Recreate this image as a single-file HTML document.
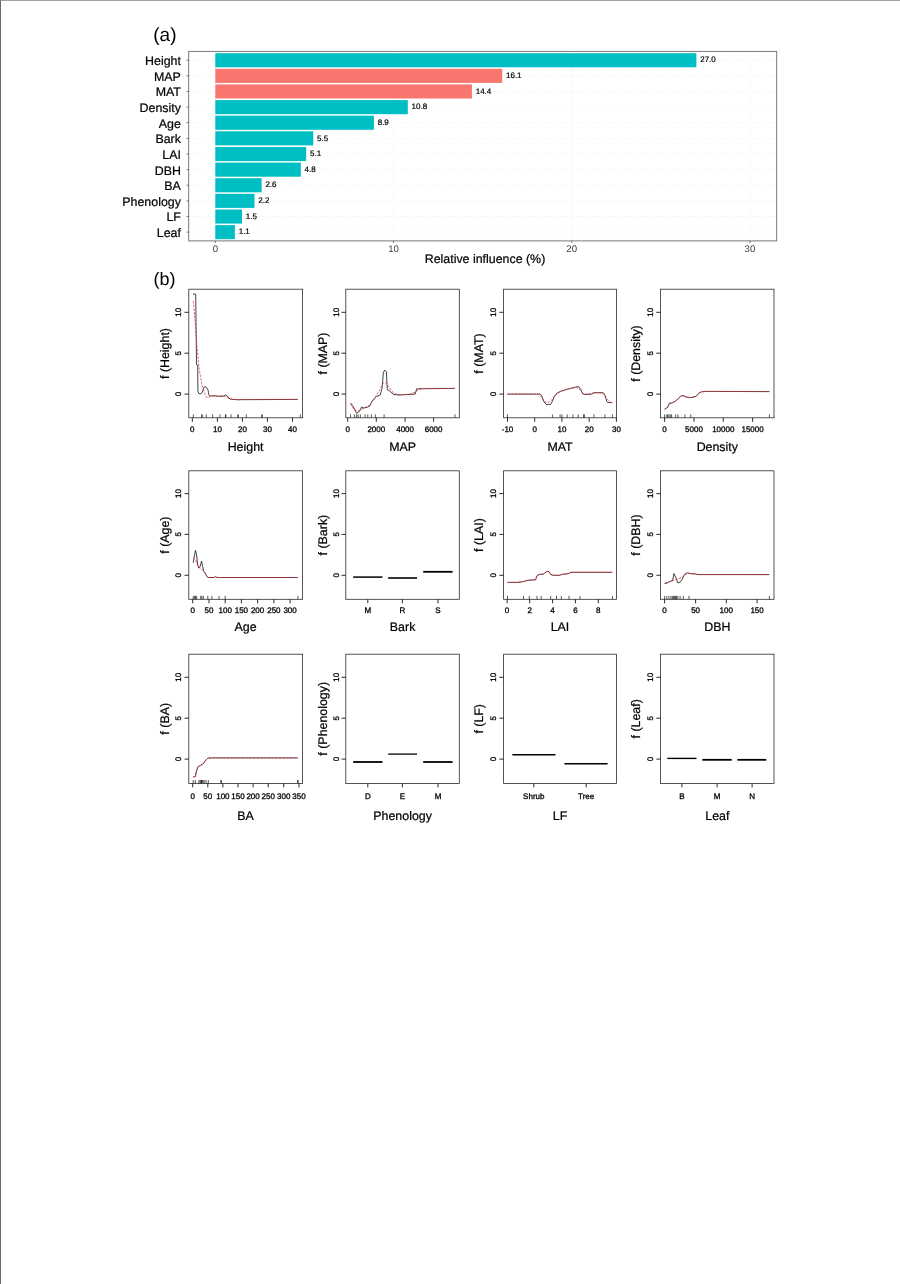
<!DOCTYPE html>
<html lang="en">
<head>
<meta charset="utf-8">
<title>Relative influence and partial dependence</title>
<style>
html,body{margin:0;padding:0;background:#fff;}
body{width:900px;height:1284px;overflow:hidden;position:relative;}
#frame{position:absolute;left:0;top:0;width:899px;height:1283px;border-left:1px solid #6a6a6a;border-top:1px solid #a0a0a0;}
svg{position:absolute;left:0;top:0;display:block;will-change:transform;}
svg text{font-family:"Liberation Sans",sans-serif;fill:#000;text-rendering:geometricPrecision;}
.lab{font-size:12.4px;stroke:#000;stroke-width:0.22px;}
.val{font-size:8px;stroke:#000;stroke-width:0.2px;}
.xt{font-size:9.6px;fill:#3a3a3a;}
.tk{font-size:8px;stroke:#000;stroke-width:0.3px;}
.big{font-size:18px;}
</style>
</head>
<body>
<div id="frame"></div>
<svg width="900" height="1284" viewBox="0 0 900 1284">

<text class="big" x="153.3" y="40.5" style="font-size:19px">(a)</text>
<g id="barchart">
<g stroke="#ececec" stroke-width="0.6" stroke-dasharray="1.6 1.6" fill="none">
<line x1="188.7" y1="60.2" x2="776.7" y2="60.2"/>
<line x1="188.7" y1="75.8" x2="776.7" y2="75.8"/>
<line x1="188.7" y1="91.5" x2="776.7" y2="91.5"/>
<line x1="188.7" y1="107.1" x2="776.7" y2="107.1"/>
<line x1="188.7" y1="122.7" x2="776.7" y2="122.7"/>
<line x1="188.7" y1="138.4" x2="776.7" y2="138.4"/>
<line x1="188.7" y1="154" x2="776.7" y2="154"/>
<line x1="188.7" y1="169.6" x2="776.7" y2="169.6"/>
<line x1="188.7" y1="185.2" x2="776.7" y2="185.2"/>
<line x1="188.7" y1="200.9" x2="776.7" y2="200.9"/>
<line x1="188.7" y1="216.5" x2="776.7" y2="216.5"/>
<line x1="188.7" y1="232.1" x2="776.7" y2="232.1"/>
<line x1="215.3" y1="51.4" x2="215.3" y2="240.9"/>
<line x1="393.5" y1="51.4" x2="393.5" y2="240.9"/>
<line x1="571.7" y1="51.4" x2="571.7" y2="240.9"/>
<line x1="749.9" y1="51.4" x2="749.9" y2="240.9"/>
</g>
<rect x="215.3" y="53.2" width="481.1" height="14.1" fill="#00BFC4"/>
<text class="val" x="700.2" y="62.3">27.0</text>
<text class="lab" text-anchor="end" x="180.9" y="65.1">Height</text>
<line x1="186.7" y1="60.2" x2="188.7" y2="60.2" stroke="#333" stroke-width="0.7"/>
<rect x="215.3" y="68.8" width="286.9" height="14.1" fill="#F8766D"/>
<text class="val" x="506" y="77.9">16.1</text>
<text class="lab" text-anchor="end" x="180.9" y="80.7">MAP</text>
<line x1="186.7" y1="75.8" x2="188.7" y2="75.8" stroke="#333" stroke-width="0.7"/>
<rect x="215.3" y="84.4" width="256.6" height="14.1" fill="#F8766D"/>
<text class="val" x="475.7" y="93.6">14.4</text>
<text class="lab" text-anchor="end" x="180.9" y="96.4">MAT</text>
<line x1="186.7" y1="91.5" x2="188.7" y2="91.5" stroke="#333" stroke-width="0.7"/>
<rect x="215.3" y="100.1" width="192.5" height="14.1" fill="#00BFC4"/>
<text class="val" x="411.6" y="109.2">10.8</text>
<text class="lab" text-anchor="end" x="180.9" y="112">Density</text>
<line x1="186.7" y1="107.1" x2="188.7" y2="107.1" stroke="#333" stroke-width="0.7"/>
<rect x="215.3" y="115.7" width="158.6" height="14.1" fill="#00BFC4"/>
<text class="val" x="377.7" y="124.8">8.9</text>
<text class="lab" text-anchor="end" x="180.9" y="127.6">Age</text>
<line x1="186.7" y1="122.7" x2="188.7" y2="122.7" stroke="#333" stroke-width="0.7"/>
<rect x="215.3" y="131.3" width="98" height="14.1" fill="#00BFC4"/>
<text class="val" x="317.1" y="140.5">5.5</text>
<text class="lab" text-anchor="end" x="180.9" y="143.3">Bark</text>
<line x1="186.7" y1="138.4" x2="188.7" y2="138.4" stroke="#333" stroke-width="0.7"/>
<rect x="215.3" y="147" width="90.9" height="14.1" fill="#00BFC4"/>
<text class="val" x="310" y="156.1">5.1</text>
<text class="lab" text-anchor="end" x="180.9" y="158.9">LAI</text>
<line x1="186.7" y1="154" x2="188.7" y2="154" stroke="#333" stroke-width="0.7"/>
<rect x="215.3" y="162.6" width="85.5" height="14.1" fill="#00BFC4"/>
<text class="val" x="304.6" y="171.7">4.8</text>
<text class="lab" text-anchor="end" x="180.9" y="174.5">DBH</text>
<line x1="186.7" y1="169.6" x2="188.7" y2="169.6" stroke="#333" stroke-width="0.7"/>
<rect x="215.3" y="178.2" width="46.3" height="14.1" fill="#00BFC4"/>
<text class="val" x="265.4" y="187.3">2.6</text>
<text class="lab" text-anchor="end" x="180.9" y="190.1">BA</text>
<line x1="186.7" y1="185.2" x2="188.7" y2="185.2" stroke="#333" stroke-width="0.7"/>
<rect x="215.3" y="193.8" width="39.2" height="14.1" fill="#00BFC4"/>
<text class="val" x="258.3" y="203">2.2</text>
<text class="lab" text-anchor="end" x="180.9" y="205.8">Phenology</text>
<line x1="186.7" y1="200.9" x2="188.7" y2="200.9" stroke="#333" stroke-width="0.7"/>
<rect x="215.3" y="209.5" width="26.7" height="14.1" fill="#00BFC4"/>
<text class="val" x="245.8" y="218.6">1.5</text>
<text class="lab" text-anchor="end" x="180.9" y="221.4">LF</text>
<line x1="186.7" y1="216.5" x2="188.7" y2="216.5" stroke="#333" stroke-width="0.7"/>
<rect x="215.3" y="225.1" width="19.6" height="14.1" fill="#00BFC4"/>
<text class="val" x="238.7" y="234.2">1.1</text>
<text class="lab" text-anchor="end" x="180.9" y="237">Leaf</text>
<line x1="186.7" y1="232.1" x2="188.7" y2="232.1" stroke="#333" stroke-width="0.7"/>
<line x1="215.3" y1="240.9" x2="215.3" y2="242.9" stroke="#333" stroke-width="0.7"/>
<text class="xt" text-anchor="middle" x="215.3" y="252.2">0</text>
<line x1="393.5" y1="240.9" x2="393.5" y2="242.9" stroke="#333" stroke-width="0.7"/>
<text class="xt" text-anchor="middle" x="393.5" y="252.2">10</text>
<line x1="571.7" y1="240.9" x2="571.7" y2="242.9" stroke="#333" stroke-width="0.7"/>
<text class="xt" text-anchor="middle" x="571.7" y="252.2">20</text>
<line x1="749.9" y1="240.9" x2="749.9" y2="242.9" stroke="#333" stroke-width="0.7"/>
<text class="xt" text-anchor="middle" x="749.9" y="252.2">30</text>
<rect x="188.7" y="51.4" width="588" height="189.5" fill="none" stroke="#6b6b6b" stroke-width="0.9"/>
<text class="lab" text-anchor="middle" x="485" y="262.5">Relative influence (%)</text>
</g>
<text class="big" x="153.5" y="284.5" style="font-size:18px">(b)</text>
<g id="pd-Height">
<polyline points="193,294.1 195.7,294.1 195.9,311.7 196.5,364.7 197.7,365.4 197.9,391 198.9,393.5 200.2,393.8 201.7,393.3 202.7,391 203.7,387.9 204.7,386.6 205.9,386.9 207.1,388.2 208.1,390.3 208.7,394.3 209.7,396.2 213,395.7 218.3,396.3 223.7,396.1 224.7,395.1 225.9,394.9 227.1,395.9 229,398.3 231.7,399.3 238.3,399.7 297.7,399.4" fill="none" stroke="#151515" stroke-width="0.8" stroke-linejoin="round"/>
<polyline points="193.3,301 194.3,311.7 195.7,329 197,346.3 199,367.7 201.7,383.7 205,394.3 207,397.7 209.7,396.7 213,395.9 225,396.3 230.3,399 238.3,399.9 242.3,399.4 297.7,399.4" fill="none" stroke="#e8283a" stroke-width="0.75" stroke-dasharray="2.4 1.3"/>
<path d="M193.3 417.8v-3.4M201.7 417.8v-3.4M202.2 417.8v-3.4M206.3 417.8v-3.4M212.7 417.8v-3.4M219.9 417.8v-3.4M225.4 417.8v-3.4M225.9 417.8v-3.4M231 417.8v-3.4M237.8 417.8v-3.4M238.3 417.8v-3.4M246.3 417.8v-3.4M261.7 417.8v-3.4M262.2 417.8v-3.4M300.3 417.8v-3.4" stroke="#111" stroke-width="0.7" fill="none"/>
<rect x="188.8" y="289.2" width="113.8" height="128.6" fill="none" stroke="#2a2a2a" stroke-width="0.8"/>
<path d="M188.8 312.3h-4.3M188.8 353.2h-4.3M188.8 394.1h-4.3" stroke="#151515" stroke-width="0.9" fill="none"/>
<text class="tk" text-anchor="middle" transform="translate(181 312.3) rotate(-90)">10</text>
<text class="tk" text-anchor="middle" transform="translate(181 353.2) rotate(-90)">5</text>
<text class="tk" text-anchor="middle" transform="translate(181 394.1) rotate(-90)">0</text>
<path d="M192.3 417.8v4M217.4 417.8v4M242.4 417.8v4M267.4 417.8v4M292.5 417.8v4" stroke="#151515" stroke-width="0.9" fill="none"/>
<text class="tk" text-anchor="middle" x="192.3" y="432">0</text>
<text class="tk" text-anchor="middle" x="217.4" y="432">10</text>
<text class="tk" text-anchor="middle" x="242.4" y="432">20</text>
<text class="tk" text-anchor="middle" x="267.4" y="432">30</text>
<text class="tk" text-anchor="middle" x="292.5" y="432">40</text>
<text class="lab" text-anchor="middle" x="245.6" y="450.8">Height</text>
<text class="lab" text-anchor="middle" transform="translate(168.5 353.5) rotate(-90)">f (Height)</text>
</g>
<g id="pd-MAP">
<polyline points="350.5,403 352.7,405.7 356.6,413.3 358.9,411.9 360.3,409.8 361.6,406.9 363.3,408 366.9,407.4 369.6,406.2 372.2,401.2 374.9,397.7 376.7,396.4 380.2,395 382,388.8 383.4,372.4 384.7,370.1 386.4,371.9 387.3,389.7 389.1,390.6 393.6,394.5 398.9,395 415.2,394.1 416.7,388.8 454.9,388.4" fill="none" stroke="#151515" stroke-width="0.8" stroke-linejoin="round"/>
<polyline points="350.5,403.9 354.4,410.1 358,411 363.3,408.3 368.7,405.7 374,399.4 379.3,390.6 382.9,383.4 385.6,382.6 388.2,386.1 393.6,393.2 398.9,395 409.6,394.1 414.9,392.3 418.4,389.7 422,388.6 454.9,388.4" fill="none" stroke="#e8283a" stroke-width="0.75" stroke-dasharray="2.4 1.3"/>
<path d="M350.5 417.8v-3.4M354.4 417.8v-3.4M356.6 417.8v-3.4M358 417.8v-3.4M360.3 417.8v-3.4M365.1 417.8v-3.4M367.8 417.8v-3.4M371.3 417.8v-3.4M375.4 417.8v-3.4M384.1 417.8v-3.4M454.9 417.8v-3.4" stroke="#111" stroke-width="0.7" fill="none"/>
<rect x="345.8" y="289.2" width="113.5" height="128.6" fill="none" stroke="#2a2a2a" stroke-width="0.8"/>
<path d="M345.8 312.3h-4.3M345.8 353.2h-4.3M345.8 394.1h-4.3" stroke="#151515" stroke-width="0.9" fill="none"/>
<text class="tk" text-anchor="middle" transform="translate(339 312.3) rotate(-90)">10</text>
<text class="tk" text-anchor="middle" transform="translate(339 353.2) rotate(-90)">5</text>
<text class="tk" text-anchor="middle" transform="translate(339 394.1) rotate(-90)">0</text>
<path d="M347.7 417.8v4M376.3 417.8v4M405.1 417.8v4M433.6 417.8v4" stroke="#151515" stroke-width="0.9" fill="none"/>
<text class="tk" text-anchor="middle" x="347.7" y="432">0</text>
<text class="tk" text-anchor="middle" x="376.3" y="432">2000</text>
<text class="tk" text-anchor="middle" x="405.1" y="432">4000</text>
<text class="tk" text-anchor="middle" x="433.6" y="432">6000</text>
<text class="lab" text-anchor="middle" x="402.6" y="450.8">MAP</text>
<text class="lab" text-anchor="middle" transform="translate(326.8 353.5) rotate(-90)">f (MAP)</text>
</g>
<g id="pd-MAT">
<polyline points="507.5,394.1 540,394.1 541.8,395.9 543.6,401.2 546.2,404.4 550.7,404.4 552.4,401.2 554.2,396.8 556.9,393.2 560.4,391.4 567.6,389.1 574.7,387.5 577.3,386.6 579.1,387 580.9,389.7 582.7,393.8 584.4,394.6 591.6,394.1 593.3,392.7 603.1,392.7 604.9,395 606.7,401.2 607.6,402.5 612.4,402.6" fill="none" stroke="#151515" stroke-width="0.8" stroke-linejoin="round"/>
<polyline points="507.5,394.1 539.1,394.1 541.8,397.7 544.4,401.6 548,402.6 551.6,400.3 555.1,395 560.4,391.4 567.6,389.1 576.4,387.4 580,389.7 583.6,394.1 592.4,393.8 596,392.7 603.1,393.2 606.7,398.6 610.2,402.1 612.4,403.4" fill="none" stroke="#e8283a" stroke-width="0.75" stroke-dasharray="2.4 1.3"/>
<path d="M507.5 417.8v-3.4M552.4 417.8v-3.4M560.1 417.8v-3.4M561.9 417.8v-3.4M567.2 417.8v-3.4M572.9 417.8v-3.4M578.2 417.8v-3.4M583.6 417.8v-3.4M584.4 417.8v-3.4M593.9 417.8v-3.4M604.9 417.8v-3.4M612.4 417.8v-3.4" stroke="#111" stroke-width="0.7" fill="none"/>
<rect x="503.6" y="289.2" width="112.9" height="128.6" fill="none" stroke="#2a2a2a" stroke-width="0.8"/>
<path d="M503.6 312.3h-4.3M503.6 353.2h-4.3M503.6 394.1h-4.3" stroke="#151515" stroke-width="0.9" fill="none"/>
<text class="tk" text-anchor="middle" transform="translate(495.8 312.3) rotate(-90)">10</text>
<text class="tk" text-anchor="middle" transform="translate(495.8 353.2) rotate(-90)">5</text>
<text class="tk" text-anchor="middle" transform="translate(495.8 394.1) rotate(-90)">0</text>
<path d="M507.5 417.8v4M534.7 417.8v4M561.9 417.8v4M589.2 417.8v4M616.4 417.8v4" stroke="#151515" stroke-width="0.9" fill="none"/>
<text class="tk" text-anchor="middle" x="507.5" y="432">-10</text>
<text class="tk" text-anchor="middle" x="534.7" y="432">0</text>
<text class="tk" text-anchor="middle" x="561.9" y="432">10</text>
<text class="tk" text-anchor="middle" x="589.2" y="432">20</text>
<text class="tk" text-anchor="middle" x="616.4" y="432">30</text>
<text class="lab" text-anchor="middle" x="560" y="450.8">MAT</text>
<text class="lab" text-anchor="middle" transform="translate(483.3 353.5) rotate(-90)">f (MAT)</text>
</g>
<g id="pd-Density">
<polyline points="664.6,409.2 667.7,407.4 669.4,403 671.2,403.4 673.9,402.1 676.6,400.3 679.2,397.7 681,395.9 682.8,395.5 686.3,397.1 690.8,397.7 696.1,396.4 698.8,393.2 701.4,391.8 706.8,391.4 769.4,391.6" fill="none" stroke="#151515" stroke-width="0.8" stroke-linejoin="round"/>
<polyline points="664.6,409.2 667.7,406.9 669.8,403.4 673.9,401.9 676.6,400 679.2,397.5 681.5,395.9 683.7,395.9 686.3,397 690.8,397.5 696.1,396.2 698.8,393 701.4,391.8 706.8,391.4 769.4,391.6" fill="none" stroke="#e8283a" stroke-width="0.75" stroke-dasharray="2.4 1.3"/>
<path d="M664.6 417.8v-3.4M666.8 417.8v-3.4M667.7 417.8v-3.4M668.9 417.8v-3.4M670.3 417.8v-3.4M671.6 417.8v-3.4M675.7 417.8v-3.4M678 417.8v-3.4M684.9 417.8v-3.4M690.8 417.8v-3.4M769.4 417.8v-3.4" stroke="#111" stroke-width="0.7" fill="none"/>
<rect x="660.6" y="289.2" width="113.4" height="128.6" fill="none" stroke="#2a2a2a" stroke-width="0.8"/>
<path d="M660.6 312.3h-4.3M660.6 353.2h-4.3M660.6 394.1h-4.3" stroke="#151515" stroke-width="0.9" fill="none"/>
<text class="tk" text-anchor="middle" transform="translate(652.8 312.3) rotate(-90)">10</text>
<text class="tk" text-anchor="middle" transform="translate(652.8 353.2) rotate(-90)">5</text>
<text class="tk" text-anchor="middle" transform="translate(652.8 394.1) rotate(-90)">0</text>
<path d="M664.6 417.8v4M694 417.8v4M723.3 417.8v4M752.6 417.8v4" stroke="#151515" stroke-width="0.9" fill="none"/>
<text class="tk" text-anchor="middle" x="664.6" y="432">0</text>
<text class="tk" text-anchor="middle" x="694" y="432">5000</text>
<text class="tk" text-anchor="middle" x="723.3" y="432">10000</text>
<text class="tk" text-anchor="middle" x="752.6" y="432">15000</text>
<text class="lab" text-anchor="middle" x="717.3" y="450.8">Density</text>
<text class="lab" text-anchor="middle" transform="translate(640 353.5) rotate(-90)">f (Density)</text>
</g>
<g id="pd-Age">
<polyline points="193.2,562.9 194.1,557.6 195.5,550.4 196.6,554.9 197.6,564.7 198.9,568.2 200.1,566.4 201.6,561.1 202.6,566.4 203.9,571.8 205.1,572.7 206.5,576.2 208.3,577.5 214,577.5 215.4,576.6 217.2,577.5 297.9,577.5" fill="none" stroke="#151515" stroke-width="0.8" stroke-linejoin="round"/>
<polyline points="193.2,557.6 195.3,559.3 198,566.4 200.7,568.2 203.3,570.9 206.9,576.2 210.4,577.5 297.9,577.5" fill="none" stroke="#e8283a" stroke-width="0.75" stroke-dasharray="2.4 1.3"/>
<path d="M193.2 599.3v-3.4M194.4 599.3v-3.4M195.5 599.3v-3.4M196.6 599.3v-3.4M200.7 599.3v-3.4M201.9 599.3v-3.4M203.3 599.3v-3.4M207.8 599.3v-3.4M211.9 599.3v-3.4M219 599.3v-3.4M225.2 599.3v-3.4M297.9 599.3v-3.4" stroke="#111" stroke-width="0.7" fill="none"/>
<rect x="188.8" y="470.8" width="113.8" height="128.5" fill="none" stroke="#2a2a2a" stroke-width="0.8"/>
<path d="M188.8 493.6h-4.3M188.8 534.4h-4.3M188.8 575.3h-4.3" stroke="#151515" stroke-width="0.9" fill="none"/>
<text class="tk" text-anchor="middle" transform="translate(181 493.6) rotate(-90)">10</text>
<text class="tk" text-anchor="middle" transform="translate(181 534.4) rotate(-90)">5</text>
<text class="tk" text-anchor="middle" transform="translate(181 575.3) rotate(-90)">0</text>
<path d="M192.7 599.3v4M209 599.3v4M225.2 599.3v4M241.4 599.3v4M257.6 599.3v4M273.9 599.3v4M290.1 599.3v4" stroke="#151515" stroke-width="0.9" fill="none"/>
<text class="tk" text-anchor="middle" x="192.7" y="613">0</text>
<text class="tk" text-anchor="middle" x="209" y="613">50</text>
<text class="tk" text-anchor="middle" x="225.2" y="613">100</text>
<text class="tk" text-anchor="middle" x="241.4" y="613">150</text>
<text class="tk" text-anchor="middle" x="257.6" y="613">200</text>
<text class="tk" text-anchor="middle" x="273.9" y="613">250</text>
<text class="tk" text-anchor="middle" x="290.1" y="613">300</text>
<text class="lab" text-anchor="middle" x="245.6" y="631.2">Age</text>
<text class="lab" text-anchor="middle" transform="translate(168.5 535.1) rotate(-90)">f (Age)</text>
</g>
<g id="pd-Bark">
<line x1="353.2" y1="577.1" x2="382.5" y2="577.1" stroke="#000" stroke-width="1.5"/>
<line x1="388.2" y1="578" x2="417" y2="578" stroke="#000" stroke-width="1.6"/>
<line x1="423.2" y1="571.8" x2="452.6" y2="571.8" stroke="#000" stroke-width="1.8"/>
<rect x="345.8" y="470.8" width="113.5" height="128.5" fill="none" stroke="#2a2a2a" stroke-width="0.8"/>
<path d="M345.8 493.6h-4.3M345.8 534.4h-4.3M345.8 575.3h-4.3" stroke="#151515" stroke-width="0.9" fill="none"/>
<text class="tk" text-anchor="middle" transform="translate(339 493.6) rotate(-90)">10</text>
<text class="tk" text-anchor="middle" transform="translate(339 534.4) rotate(-90)">5</text>
<text class="tk" text-anchor="middle" transform="translate(339 575.3) rotate(-90)">0</text>
<path d="M367.8 599.3v4M402.4 599.3v4M438 599.3v4" stroke="#151515" stroke-width="0.9" fill="none"/>
<text class="tk" text-anchor="middle" x="367.8" y="613">M</text>
<text class="tk" text-anchor="middle" x="402.4" y="613">R</text>
<text class="tk" text-anchor="middle" x="438" y="613">S</text>
<text class="lab" text-anchor="middle" x="402.6" y="631.2">Bark</text>
<text class="lab" text-anchor="middle" transform="translate(326.8 535.1) rotate(-90)">f (Bark)</text>
</g>
<g id="pd-LAI">
<polyline points="507.5,582.4 517.8,582.4 523.1,581.6 527.6,580.3 535.6,579.8 537,575.7 539.1,574.4 543.6,574.1 546.2,571.8 548.9,571.4 550.7,574.4 553.3,575.3 559.6,575.3 562.2,574.4 568.4,573.6 571.1,572.3 612.4,572.3" fill="none" stroke="#151515" stroke-width="0.8" stroke-linejoin="round"/>
<polyline points="507.5,582.4 517.8,582.4 523.1,581.6 527.6,580.5 535.2,579.6 537.3,575.3 539.1,574.6 543.6,573.9 546.2,572 548.9,571.8 550.8,574.6 553.3,575.3 559.6,575.3 562.2,574.4 568.4,573.6 571.1,572.3 612.4,572.3" fill="none" stroke="#e8283a" stroke-width="0.75" stroke-dasharray="2.4 1.3"/>
<path d="M507.5 599.3v-3.4M523.5 599.3v-3.4M529.3 599.3v-3.4M537 599.3v-3.4M541.2 599.3v-3.4M550.7 599.3v-3.4M556.5 599.3v-3.4M561.3 599.3v-3.4M569 599.3v-3.4M580 599.3v-3.4M612.4 599.3v-3.4" stroke="#111" stroke-width="0.7" fill="none"/>
<rect x="503.6" y="470.8" width="112.9" height="128.5" fill="none" stroke="#2a2a2a" stroke-width="0.8"/>
<path d="M503.6 493.6h-4.3M503.6 534.4h-4.3M503.6 575.3h-4.3" stroke="#151515" stroke-width="0.9" fill="none"/>
<text class="tk" text-anchor="middle" transform="translate(495.8 493.6) rotate(-90)">10</text>
<text class="tk" text-anchor="middle" transform="translate(495.8 534.4) rotate(-90)">5</text>
<text class="tk" text-anchor="middle" transform="translate(495.8 575.3) rotate(-90)">0</text>
<path d="M507.1 599.3v4M529.7 599.3v4M552.6 599.3v4M575.4 599.3v4M598.3 599.3v4" stroke="#151515" stroke-width="0.9" fill="none"/>
<text class="tk" text-anchor="middle" x="507.1" y="613">0</text>
<text class="tk" text-anchor="middle" x="529.7" y="613">2</text>
<text class="tk" text-anchor="middle" x="552.6" y="613">4</text>
<text class="tk" text-anchor="middle" x="575.4" y="613">6</text>
<text class="tk" text-anchor="middle" x="598.3" y="613">8</text>
<text class="lab" text-anchor="middle" x="560" y="631.2">LAI</text>
<text class="lab" text-anchor="middle" transform="translate(483.3 535.1) rotate(-90)">f (LAI)</text>
</g>
<g id="pd-DBH">
<polyline points="664.6,583.3 666.8,583.3 669.4,581.6 672.6,580.7 673.9,573.6 675.7,577.1 677.8,583 680.1,582.1 681.9,579.8 684.6,574.4 687.2,572.7 689.9,573.6 695.2,573.9 697.9,574.6 769.4,574.6" fill="none" stroke="#151515" stroke-width="0.8" stroke-linejoin="round"/>
<polyline points="664.6,583.3 671.2,581 678.3,578.9 681.9,577.5 685.4,574.4 689,573.2 696.1,574.4 769.4,574.6" fill="none" stroke="#e8283a" stroke-width="0.75" stroke-dasharray="2.4 1.3"/>
<path d="M664.6 599.3v-3.4M666.8 599.3v-3.4M668.9 599.3v-3.4M670.9 599.3v-3.4M672.3 599.3v-3.4M673.4 599.3v-3.4M674.4 599.3v-3.4M675.5 599.3v-3.4M676.6 599.3v-3.4M677.8 599.3v-3.4M680.1 599.3v-3.4M683.3 599.3v-3.4M689 599.3v-3.4M769.4 599.3v-3.4" stroke="#111" stroke-width="0.7" fill="none"/>
<rect x="660.6" y="470.8" width="113.4" height="128.5" fill="none" stroke="#2a2a2a" stroke-width="0.8"/>
<path d="M660.6 493.6h-4.3M660.6 534.4h-4.3M660.6 575.3h-4.3" stroke="#151515" stroke-width="0.9" fill="none"/>
<text class="tk" text-anchor="middle" transform="translate(652.8 493.6) rotate(-90)">10</text>
<text class="tk" text-anchor="middle" transform="translate(652.8 534.4) rotate(-90)">5</text>
<text class="tk" text-anchor="middle" transform="translate(652.8 575.3) rotate(-90)">0</text>
<path d="M664.6 599.3v4M695.6 599.3v4M726.3 599.3v4M757.1 599.3v4" stroke="#151515" stroke-width="0.9" fill="none"/>
<text class="tk" text-anchor="middle" x="664.6" y="613">0</text>
<text class="tk" text-anchor="middle" x="695.6" y="613">50</text>
<text class="tk" text-anchor="middle" x="726.3" y="613">100</text>
<text class="tk" text-anchor="middle" x="757.1" y="613">150</text>
<text class="lab" text-anchor="middle" x="717.3" y="631.2">DBH</text>
<text class="lab" text-anchor="middle" transform="translate(640 535.1) rotate(-90)">f (DBH)</text>
</g>
<g id="pd-BA">
<polyline points="193.2,776.9 195.3,776.5 196.6,770.7 198,766.6 200.7,765.3 203.3,763.6 206,760 207.8,758.2 211.3,757.9 297.9,757.9" fill="none" stroke="#151515" stroke-width="0.8" stroke-linejoin="round"/>
<polyline points="193.2,776.9 195.3,776.2 196.6,770.8 198,766.8 200.7,765.3 203.3,763.4 206,760 207.8,758.2 211.3,757.9 297.9,757.9" fill="none" stroke="#e8283a" stroke-width="0.75" stroke-dasharray="2.4 1.3"/>
<path d="M193.2 783.4v-3.4M195.3 783.4v-3.4M198.9 783.4v-3.4M200.1 783.4v-3.4M201 783.4v-3.4M201.4 783.4v-3.4M201.7 783.4v-3.4M202.1 783.4v-3.4M203 783.4v-3.4M204.2 783.4v-3.4M206 783.4v-3.4M208.3 783.4v-3.4M220.9 783.4v-3.4M221.3 783.4v-3.4M297.7 783.4v-3.4M298.1 783.4v-3.4" stroke="#111" stroke-width="0.7" fill="none"/>
<rect x="188.8" y="654.2" width="113.8" height="129.2" fill="none" stroke="#2a2a2a" stroke-width="0.8"/>
<path d="M188.8 677.3h-4.3M188.8 718.2h-4.3M188.8 759.1h-4.3" stroke="#151515" stroke-width="0.9" fill="none"/>
<text class="tk" text-anchor="middle" transform="translate(181 677.3) rotate(-90)">10</text>
<text class="tk" text-anchor="middle" transform="translate(181 718.2) rotate(-90)">5</text>
<text class="tk" text-anchor="middle" transform="translate(181 759.1) rotate(-90)">0</text>
<path d="M192.7 783.4v4M207.8 783.4v4M222.9 783.4v4M238 783.4v4M253.1 783.4v4M268.2 783.4v4M283.7 783.4v4M299 783.4v4" stroke="#151515" stroke-width="0.9" fill="none"/>
<text class="tk" text-anchor="middle" x="192.7" y="798.5">0</text>
<text class="tk" text-anchor="middle" x="207.8" y="798.5">50</text>
<text class="tk" text-anchor="middle" x="222.9" y="798.5">100</text>
<text class="tk" text-anchor="middle" x="238" y="798.5">150</text>
<text class="tk" text-anchor="middle" x="253.1" y="798.5">200</text>
<text class="tk" text-anchor="middle" x="268.2" y="798.5">250</text>
<text class="tk" text-anchor="middle" x="283.7" y="798.5">300</text>
<text class="tk" text-anchor="middle" x="299" y="798.5">350</text>
<text class="lab" text-anchor="middle" x="245.6" y="819.8">BA</text>
<text class="lab" text-anchor="middle" transform="translate(168.5 718.8) rotate(-90)">f (BA)</text>
</g>
<g id="pd-Phenology">
<line x1="353.2" y1="762" x2="382.5" y2="762" stroke="#000" stroke-width="1.8"/>
<line x1="388.2" y1="754.1" x2="417" y2="754.1" stroke="#000" stroke-width="1.3"/>
<line x1="423.2" y1="762" x2="452.6" y2="762" stroke="#000" stroke-width="1.8"/>
<rect x="345.8" y="654.2" width="113.5" height="129.2" fill="none" stroke="#2a2a2a" stroke-width="0.8"/>
<path d="M345.8 677.3h-4.3M345.8 718.2h-4.3M345.8 759.1h-4.3" stroke="#151515" stroke-width="0.9" fill="none"/>
<text class="tk" text-anchor="middle" transform="translate(339 677.3) rotate(-90)">10</text>
<text class="tk" text-anchor="middle" transform="translate(339 718.2) rotate(-90)">5</text>
<text class="tk" text-anchor="middle" transform="translate(339 759.1) rotate(-90)">0</text>
<path d="M367.8 783.4v4M402.4 783.4v4M438 783.4v4" stroke="#151515" stroke-width="0.9" fill="none"/>
<text class="tk" text-anchor="middle" x="367.8" y="798.5">D</text>
<text class="tk" text-anchor="middle" x="402.4" y="798.5">E</text>
<text class="tk" text-anchor="middle" x="438" y="798.5">M</text>
<text class="lab" text-anchor="middle" x="402.6" y="819.8">Phenology</text>
<text class="lab" text-anchor="middle" transform="translate(326.8 718.8) rotate(-90)">f (Phenology)</text>
</g>
<g id="pd-LF">
<line x1="512.4" y1="754.7" x2="555.5" y2="754.7" stroke="#000" stroke-width="1.5"/>
<line x1="564.4" y1="763.7" x2="607.6" y2="763.7" stroke="#000" stroke-width="1.5"/>
<rect x="503.6" y="654.2" width="112.9" height="129.2" fill="none" stroke="#2a2a2a" stroke-width="0.8"/>
<path d="M503.6 677.3h-4.3M503.6 718.2h-4.3M503.6 759.1h-4.3" stroke="#151515" stroke-width="0.9" fill="none"/>
<text class="tk" text-anchor="middle" transform="translate(495.8 677.3) rotate(-90)">10</text>
<text class="tk" text-anchor="middle" transform="translate(495.8 718.2) rotate(-90)">5</text>
<text class="tk" text-anchor="middle" transform="translate(495.8 759.1) rotate(-90)">0</text>
<path d="M533.8 783.4v4M586.2 783.4v4" stroke="#151515" stroke-width="0.9" fill="none"/>
<text class="tk" text-anchor="middle" x="533.8" y="798.5">Shrub</text>
<text class="tk" text-anchor="middle" x="586.2" y="798.5">Tree</text>
<text class="lab" text-anchor="middle" x="560" y="819.8">LF</text>
<text class="lab" text-anchor="middle" transform="translate(483.3 718.8) rotate(-90)">f (LF)</text>
</g>
<g id="pd-Leaf">
<line x1="667.3" y1="758.4" x2="696.5" y2="758.4" stroke="#000" stroke-width="1.4"/>
<line x1="702.3" y1="759.8" x2="731.7" y2="759.8" stroke="#000" stroke-width="1.8"/>
<line x1="737.4" y1="759.8" x2="766.3" y2="759.8" stroke="#000" stroke-width="1.8"/>
<rect x="660.6" y="654.2" width="113.4" height="129.2" fill="none" stroke="#2a2a2a" stroke-width="0.8"/>
<path d="M660.6 677.3h-4.3M660.6 718.2h-4.3M660.6 759.1h-4.3" stroke="#151515" stroke-width="0.9" fill="none"/>
<text class="tk" text-anchor="middle" transform="translate(652.8 677.3) rotate(-90)">10</text>
<text class="tk" text-anchor="middle" transform="translate(652.8 718.2) rotate(-90)">5</text>
<text class="tk" text-anchor="middle" transform="translate(652.8 759.1) rotate(-90)">0</text>
<path d="M681.9 783.4v4M717.1 783.4v4M752.1 783.4v4" stroke="#151515" stroke-width="0.9" fill="none"/>
<text class="tk" text-anchor="middle" x="681.9" y="798.5">B</text>
<text class="tk" text-anchor="middle" x="717.1" y="798.5">M</text>
<text class="tk" text-anchor="middle" x="752.1" y="798.5">N</text>
<text class="lab" text-anchor="middle" x="717.3" y="819.8">Leaf</text>
<text class="lab" text-anchor="middle" transform="translate(640 718.8) rotate(-90)">f (Leaf)</text>
</g>
</svg>
</body>
</html>
